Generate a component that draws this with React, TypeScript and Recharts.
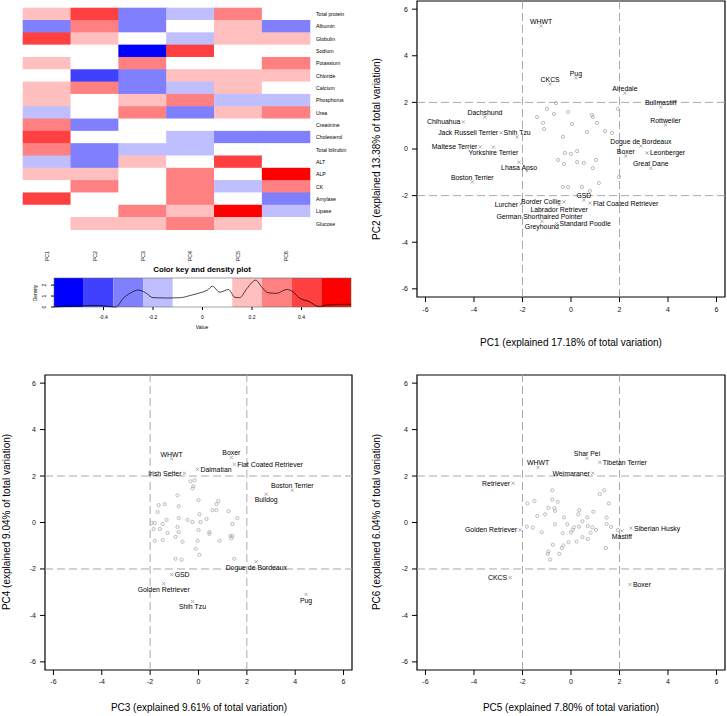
import React from "react";
import {
  ScatterChart,
  Scatter,
  XAxis,
  YAxis,
  ReferenceLine,
  ReferenceArea,
  ComposedChart,
  Line,
} from "recharts";

const FONT = '"Liberation Sans", Arial, Helvetica, sans-serif';

// ---------- heatmap: loadings of each variable on PC1..PC6 ----------
const variables = [
  "Total protein", "Albumin", "Globulin", "Sodium", "Potassium", "Chloride",
  "Calcium", "Phosphorus", "Urea", "Creatinine", "Cholesterol", "Total bilirubin",
  "ALT", "ALP", "CK", "Amylase", "Lipase", "Glucose",
];
const pcNames = ["PC1", "PC2", "PC3", "PC4", "PC5", "PC6"];
const loadings = [
  [0.17, 0.41, -0.29, -0.16, 0.31, 0.04],
  [-0.31, 0.28, -0.32, 0.02, 0.15, -0.3],
  [0.43, 0.18, -0.03, -0.2, 0.16, 0.17],
  [0.06, -0.02, -0.55, 0.44, 0.08, -0.05],
  [0.15, 0.03, 0.32, 0.07, -0.04, 0.29],
  [0.01, -0.45, -0.28, 0.17, 0.2, 0.16],
  [0.19, 0.3, -0.33, -0.19, 0.14, 0.09],
  [0.16, -0.06, 0.2, 0.27, -0.21, -0.17],
  [-0.17, 0.1, 0.28, -0.31, 0.19, 0.33],
  [0.3, -0.29, 0.07, -0.02, 0.05, -0.08],
  [0.45, 0.04, -0.07, -0.15, -0.27, -0.32],
  [0.32, -0.31, -0.2, -0.14, 0.01, 0.1],
  [-0.22, -0.33, 0.21, 0.05, 0.4, 0.02],
  [0.18, 0.21, -0.01, 0.27, 0.06, 0.52],
  [0.1, 0.34, 0.03, 0.29, -0.13, 0.3],
  [0.39, -0.08, 0.11, 0.26, -0.04, -0.35],
  [-0.1, 0.06, 0.28, 0.22, 0.56, -0.15],
  [0.02, 0.15, 0.14, 0.32, 0.2, 0.11],
];

// colour key
const keyBreaks = [-0.6, -0.48, -0.36, -0.24, -0.12, 0, 0.12, 0.24, 0.36, 0.48, 0.6];
const keyColors = [
  "#0000ff", "#4040ff", "#8080ff", "#bfbfff", "#ffffff",
  "#ffffff", "#ffbfbf", "#ff8080", "#ff4040", "#ff0000",
];
const keyTicks = [-0.4, -0.2, 0, 0.2, 0.4];
const densityValue = [
  -0.6, -0.5, -0.42, -0.38, -0.35, -0.32, -0.29, -0.26, -0.23, -0.2, -0.14, -0.09,
  -0.05, -0.01, 0.02, 0.04, 0.07, 0.105, 0.13, 0.15, 0.18, 0.215, 0.24, 0.265, 0.3,
  0.34, 0.365, 0.39, 0.43, 0.47, 0.51, 0.6,
];
const densityHeight = [
  0, 0.1, 0.15, 0.05, 0, 0.8, 1.3, 1.55, 1.3, 0.85, 0.82, 0.85, 1.05, 1.3, 1.55, 1.9,
  1.35, 1.6, 0.9, 0.85, 1.7, 2.45, 1.8, 1.3, 1.25, 1.6, 1.4, 0.85, 0.5, 0.05, 0.2, 0.25,
];

// ---------- PCA scores ----------
const axisTicks = [-6, -4, -2, 0, 2, 4, 6];

const pc12Labelled = [
  { name: "WHWT", x: -1.23, y: 5.28 },
  { name: "CKCS", x: -0.86, y: 2.79 },
  { name: "Pug", x: 0.2, y: 3.05 },
  { name: "Airedale", x: 2.22, y: 2.4 },
  { name: "Bullmastiff", x: 3.7, y: 1.8 },
  { name: "Rottweiler", x: 3.9, y: 1.03 },
  { name: "Dachshund", x: -3.55, y: 1.37 },
  { name: "Chihuahua", x: -4.44, y: 1.16 },
  { name: "Jack Russell Terrier", x: -2.88, y: 0.69 },
  { name: "Shih Tzu", x: -2.22, y: 0.52 },
  { name: "Maltese Terrier", x: -3.74, y: 0.09 },
  { name: "Yorkshire Terrier", x: -3.2, y: 0.08 },
  { name: "Lhasa Apso", x: -2.14, y: -0.57 },
  { name: "Boston Terrier", x: -4.07, y: -1.41 },
  { name: "Dogue de Bordeaux", x: 2.88, y: 0.13 },
  { name: "Boxer", x: 2.26, y: -0.3 },
  { name: "Leonberger", x: 3.13, y: -0.17 },
  { name: "Great Dane", x: 3.29, y: -0.83 },
  { name: "GSD", x: 0.53, y: -2.19 },
  { name: "Flat Coated Retriever", x: 0.78, y: -2.32 },
  { name: "Border Collie", x: -0.29, y: -2.27 },
  { name: "Labrador Retriever", x: -0.49, y: -2.38 },
  { name: "Lurcher", x: -2.06, y: -2.36 },
  { name: "German Shorthaired Pointer", x: -1.3, y: -2.66 },
  { name: "Standard Poodle", x: -0.6, y: -3.2 },
  { name: "Greyhound", x: -1.2, y: -3.1 },
];
const pc12Sides: Record<string, string> = {
  WHWT: "t", CKCS: "t", Pug: "t", Airedale: "t", Bullmastiff: "t", Rottweiler: "t",
  Dachshund: "t", Chihuahua: "l", "Jack Russell Terrier": "l", "Shih Tzu": "t",
  "Maltese Terrier": "l", "Yorkshire Terrier": "b", "Lhasa Apso": "b",
  "Boston Terrier": "t", "Dogue de Bordeaux": "t", Boxer: "t", Leonberger: "r",
  "Great Dane": "t", GSD: "t", "Flat Coated Retriever": "r", "Border Collie": "l",
  "Labrador Retriever": "b", Lurcher: "l", "German Shorthaired Pointer": "b",
  "Standard Poodle": "r", Greyhound: "b",
};
const pc12Others = [
  { x: -0.62, y: 1.97 }, { x: -0.99, y: 1.72 }, { x: -0.7, y: 1.5 }, { x: -0.12, y: 1.59 },
  { x: -1.4, y: 1.37 }, { x: -1.15, y: 1.12 }, { x: -1.11, y: 0.86 }, { x: 0.04, y: 1.07 },
  { x: 0.86, y: 1.46 }, { x: 0.9, y: 1.37 }, { x: 1.07, y: 1.12 }, { x: 0.66, y: 0.73 },
  { x: 1.4, y: 0.77 }, { x: 1.69, y: 0.69 }, { x: 1.93, y: 1.72 }, { x: -0.33, y: 0.52 },
  { x: -0.25, y: -0.17 }, { x: 0, y: -0.21 }, { x: 0.25, y: -0.09 }, { x: -0.53, y: -0.47 },
  { x: -0.29, y: -0.64 }, { x: 0.25, y: -0.56 }, { x: 0.53, y: -0.6 }, { x: 1.03, y: -0.47 },
  { x: 0.9, y: -0.82 }, { x: 1.98, y: -1.2 }, { x: -0.33, y: -1.63 }, { x: -0.12, y: -1.63 },
  { x: 0.45, y: -1.63 }, { x: 1.15, y: -1.46 }, { x: 0.78, y: -1.8 },
];

const pc34Labelled = [
  { name: "WHWT", x: -1.11, y: 2.74 },
  { name: "Boxer", x: 1.36, y: 2.8 },
  { name: "Flat Coated Retriever", x: 1.48, y: 2.5 },
  { name: "Dalmatian", x: -0.04, y: 2.29 },
  { name: "Irish Setter", x: -0.58, y: 2.12 },
  { name: "Boston Terrier", x: 3.88, y: 1.39 },
  { name: "Bulldog", x: 2.8, y: 1.22 },
  { name: "Dogue de Bordeaux", x: 2.39, y: -1.69 },
  { name: "GSD", x: -1.11, y: -2.24 },
  { name: "Golden Retriever", x: -1.44, y: -2.63 },
  { name: "Shih Tzu", x: -0.25, y: -3.4 },
  { name: "Pug", x: 4.45, y: -3.1 },
];
const pc34Sides: Record<string, string> = {
  WHWT: "t", Boxer: "t", "Flat Coated Retriever": "r", Dalmatian: "r",
  "Irish Setter": "l", "Boston Terrier": "t", Bulldog: "b", "Dogue de Bordeaux": "b",
  GSD: "r", "Golden Retriever": "b", "Shih Tzu": "b", Pug: "b",
};
const pc34Others = [
  { x: -0.33, y: 1.77 }, { x: -0.16, y: 1.82 }, { x: -0.25, y: 1.47 }, { x: -0.21, y: 1.56 },
  { x: -0.87, y: 1.17 }, { x: 0, y: 0.96 }, { x: -1.65, y: 0.75 }, { x: -1.4, y: 0.79 },
  { x: -0.82, y: 0.7 }, { x: -1.69, y: 0.45 }, { x: 0.82, y: 0.92 }, { x: 0.74, y: 0.79 },
  { x: 0.58, y: 0.53 }, { x: 0.74, y: 0.53 }, { x: 1.24, y: 0.49 }, { x: 1.61, y: 0.19 },
  { x: 0.04, y: 0.36 }, { x: -1.32, y: 0.11 }, { x: -1.94, y: -0.02 }, { x: -1.81, y: -0.02 },
  { x: -1.48, y: -0.06 }, { x: -1.86, y: -0.28 }, { x: -1.6, y: -0.28 }, { x: -1.28, y: -0.45 },
  { x: -0.82, y: 0.19 }, { x: -0.45, y: 0.11 }, { x: -0.25, y: 0.02 }, { x: 0.08, y: 0.02 },
  { x: 0.33, y: 0.15 }, { x: -0.87, y: -0.19 }, { x: -0.82, y: -0.41 }, { x: 0, y: -0.32 },
  { x: 0.45, y: -0.41 }, { x: 0.45, y: -0.49 }, { x: 1.4, y: -0.06 }, { x: 1.32, y: -0.58 },
  { x: 1.4, y: -0.58 }, { x: 1.36, y: -0.68 }, { x: -1.48, y: -0.75 }, { x: -1.81, y: -0.79 },
  { x: -0.95, y: -0.62 }, { x: -0.66, y: -0.83 }, { x: -0.04, y: -0.79 }, { x: 0.87, y: -0.79 },
  { x: -0.12, y: -1.13 }, { x: 0.04, y: -1.39 }, { x: -0.95, y: -1.56 }, { x: -0.7, y: -1.6 },
  { x: 1.48, y: -1.56 },
];

const pc56Labelled = [
  { name: "Shar Pei", x: 0.66, y: 2.76 },
  { name: "Tibetan Terrier", x: 1.19, y: 2.59 },
  { name: "WHWT", x: -1.36, y: 2.37 },
  { name: "Weimaraner", x: 0.9, y: 2.12 },
  { name: "Retriever", x: -2.39, y: 1.69 },
  { name: "Golden Retriever", x: -2.1, y: -0.32 },
  { name: "Siberian Husky", x: 2.47, y: -0.24 },
  { name: "Mastiff", x: 2.1, y: -0.36 },
  { name: "CKCS", x: -2.51, y: -2.37 },
  { name: "Boxer", x: 2.43, y: -2.67 },
];
const pc56Sides: Record<string, string> = {
  "Shar Pei": "t", "Tibetan Terrier": "r", WHWT: "t", Weimaraner: "l", Retriever: "l",
  "Golden Retriever": "l", "Siberian Husky": "r", Mastiff: "b", CKCS: "l", Boxer: "r",
};
const pc56Others = [
  { x: -0.77, y: 1.39 }, { x: 1.19, y: 1.22 }, { x: 1.37, y: 1.39 }, { x: -1.8, y: 0.82 },
  { x: -1.51, y: 0.92 }, { x: -0.77, y: 0.99 }, { x: -0.55, y: 0.89 }, { x: 1.56, y: 0.82 },
  { x: -0.93, y: 0.63 }, { x: -0.69, y: 0.61 }, { x: -0.66, y: 0.5 }, { x: -1.39, y: 0.28 },
  { x: -1.07, y: 0.35 }, { x: 0.34, y: 0.53 }, { x: 0.3, y: 0.35 }, { x: 0.92, y: 0.46 },
  { x: 0.67, y: 0.22 }, { x: 0.47, y: 0.05 }, { x: -0.29, y: 0.22 }, { x: -0.66, y: -0.08 },
  { x: 1.47, y: 0.21 }, { x: 1.47, y: -0.06 }, { x: 1.65, y: -0.19 }, { x: -1.82, y: -0.18 },
  { x: -1.58, y: -0.22 }, { x: -1.21, y: -0.42 }, { x: -0.15, y: -0.08 }, { x: 0.07, y: -0.32 },
  { x: 0, y: -0.42 }, { x: 0.12, y: -0.21 }, { x: 0.33, y: -0.18 }, { x: 0.69, y: -0.15 },
  { x: 0.88, y: -0.21 }, { x: 1.03, y: -0.32 }, { x: 0.81, y: -0.44 }, { x: -0.34, y: -0.46 },
  { x: 0.47, y: -0.63 }, { x: 0.69, y: -0.71 }, { x: 0.23, y: -0.82 }, { x: -0.11, y: -0.85 },
  { x: -0.32, y: -0.99 }, { x: -0.38, y: -1.1 }, { x: -0.75, y: -0.96 }, { x: -0.93, y: -1.25 },
  { x: -0.96, y: -1.35 }, { x: -0.48, y: -1.35 }, { x: -0.86, y: -1.6 }, { x: 1.44, y: -1.1 },
  { x: 1.93, y: -0.32 },
];

// ---------- helpers ----------
const LIM = 6.35;
const HEAT_W = 287;
const HEAT_H = 234;

function colorFor(v: number) {
  for (let i = 0; i < keyColors.length; i++) {
    if (v < keyBreaks[i + 1]) return keyColors[i];
  }
  return keyColors[keyColors.length - 1];
}

const heatCells = loadings.flatMap((row, i) =>
  row.map((v, j) => ({ col: j + 0.5, row: i + 0.5, v }))
);
const densityData = densityValue.map((v, i) => ({ v, d: densityHeight[i] }));

function Txt({ x, y, size, rotate, bold, children }: any) {
  return (
    <div
      style={{
        position: "absolute",
        left: x,
        top: y,
        transform: `translate(-50%, -50%)${rotate ? " rotate(-90deg)" : ""}`,
        whiteSpace: "nowrap",
        fontSize: size,
        fontWeight: bold ? 700 : 400,
        fontFamily: FONT,
        lineHeight: 1,
        color: "#000",
      }}
    >
      {children}
    </div>
  );
}

const HeatCell = (props: any) => {
  const { cx, cy, payload } = props;
  const w = HEAT_W / 6;
  const h = HEAT_H / 19;
  return (
    <rect x={cx - w / 2 - 0.3} y={cy - h / 2 - 0.3} width={w + 0.6} height={h + 0.6} fill={colorFor(payload.v)} />
  );
};

const PcTick = (props: any) => {
  const { x, y, payload } = props;
  return (
    <text x={x} y={y} transform={`rotate(-90 ${x} ${y})`} textAnchor="end" dominantBaseline="central"
      fontSize={5.2} fontFamily={FONT} fill="#000">
      {pcNames[Math.floor(payload.value)]}
    </text>
  );
};

const VarTick = (props: any) => {
  const { x, y, payload } = props;
  return (
    <text x={x} y={y} textAnchor="start" dominantBaseline="central" fontSize={5.2}
      fontFamily={FONT} fill="#000">
      {variables[Math.floor(payload.value)]}
    </text>
  );
};

const DensityTick = (props: any) => {
  const { x, y, payload } = props;
  return (
    <text x={x} y={y} transform={`rotate(-90 ${x} ${y})`} textAnchor="middle"
      fontSize={5} fontFamily={FONT} fill="#000">
      {payload.value}
    </text>
  );
};

const OpenCircle = (props: any) => {
  const { cx, cy } = props;
  return <circle cx={cx} cy={cy} r={1.6} fill="none" stroke="#aaaaaa" strokeWidth={0.8} />;
};

function makeLabelledShape(sides: Record<string, string>) {
  return (props: any) => {
    const { cx, cy, payload } = props;
    const side = sides[payload.name] || "t";
    let tx = cx;
    let ty = cy;
    let anchor = "middle";
    if (side === "t") ty = cy - 4.5;
    if (side === "b") ty = cy + 5.5;
    if (side === "l") { tx = cx - 3; anchor = "end"; }
    if (side === "r") { tx = cx + 3; anchor = "start"; }
    const s = 1.6;
    return (
      <g>
        <line x1={cx - s} y1={cy - s} x2={cx + s} y2={cy + s} stroke="#999999" strokeWidth={0.8} />
        <line x1={cx - s} y1={cy + s} x2={cx + s} y2={cy - s} stroke="#999999" strokeWidth={0.8} />
        <text x={tx} y={ty} textAnchor={anchor} dominantBaseline="central" fontSize={6.9}
          fontFamily={FONT} fill="#000">
          {payload.name}
        </text>
      </g>
    );
  };
}

const pc12Shape = makeLabelledShape(pc12Sides);
const pc34Shape = makeLabelledShape(pc34Sides);
const pc56Shape = makeLabelledShape(pc56Sides);

const tickText = { fontSize: 7, fill: "#111", fontFamily: FONT };

function PcaPanel({ left, top, width, height, marginTop, marginRight, yAxisWidth, xAxisHeight,
  tickGap, others, labelled, shape }: any) {
  return (
    <div style={{ position: "absolute", left, top }}>
      <ScatterChart width={width} height={height}
        margin={{ top: marginTop, right: marginRight, bottom: 0, left: 0 }}>
        <XAxis type="number" dataKey="x" domain={[-LIM, LIM]} ticks={axisTicks} interval={0}
          axisLine={false} tickSize={5} tickMargin={tickGap} height={xAxisHeight}
          tick={tickText} tickLine={{ stroke: "#000" }} allowDataOverflow />
        <YAxis type="number" dataKey="y" domain={[-LIM, LIM]} ticks={axisTicks} interval={0}
          axisLine={false} tickSize={5} tickMargin={4} width={yAxisWidth}
          tick={tickText} tickLine={{ stroke: "#000" }} allowDataOverflow />
        {[-2, 2].map((v) => (
          <ReferenceLine key={`vx${v}`} x={v} stroke="#aaaaaa" strokeDasharray="8 4" />
        ))}
        {[-2, 2].map((v) => (
          <ReferenceLine key={`hy${v}`} y={v} stroke="#aaaaaa" strokeDasharray="8 4" />
        ))}
        <ReferenceArea x1={-LIM} x2={LIM} y1={-LIM} y2={LIM} fill="none" fillOpacity={0}
          stroke="#000" strokeWidth={1.2} />
        <Scatter data={others} shape={OpenCircle} isAnimationActive={false} />
        <Scatter data={labelled} shape={shape} isAnimationActive={false} />
      </ScatterChart>
    </div>
  );
}

export default function App() {
  return (
    <div style={{ position: "absolute", left: 0, top: 0, width: 727, height: 716, background: "#fff" }}>
      {/* heatmap */}
      <div style={{ position: "absolute", left: 0, top: 0 }}>
        <ScatterChart width={364} height={262} margin={{ top: 8, right: 0, bottom: 0, left: 23 }}>
          <XAxis type="number" dataKey="col" domain={[0, 6]} ticks={pcNames.map((_, j) => j + 0.5)}
            interval={0} axisLine={false} tickLine={false} tickSize={0} tickMargin={9} height={20}
            tick={PcTick} />
          <YAxis type="number" dataKey="row" domain={[0, 19]} reversed orientation="right"
            ticks={variables.map((_, i) => i + 0.5)} interval={0} axisLine={false} tickLine={false}
            tickSize={0} tickMargin={6} width={54} tick={VarTick} />
          <Scatter data={heatCells} shape={HeatCell} isAnimationActive={false} />
        </ScatterChart>
      </div>

      {/* colour key with density */}
      <Txt x={202} y={270} size={7.8} bold>Color key and density plot</Txt>
      <div style={{ position: "absolute", left: 0, top: 262 }}>
        <ComposedChart width={364} height={75} data={densityData}
          margin={{ top: 16, right: 13, bottom: 0, left: 0 }}>
          <XAxis type="number" dataKey="v" domain={[-0.6, 0.6]} ticks={keyTicks} interval={0}
            axisLine={false} tickSize={3} tickMargin={5} height={30}
            tick={{ fontSize: 5, fill: "#000", fontFamily: FONT }} tickLine={{ stroke: "#000" }} />
          <YAxis type="number" domain={[0, 2.65]} ticks={[0, 1, 2]} interval={0} axisLine={false}
            tickSize={3} tickMargin={5} width={54} tick={DensityTick} tickLine={{ stroke: "#000" }} />
          {keyColors.map((c, i) => (
            <ReferenceArea key={i} x1={keyBreaks[i]} x2={keyBreaks[i + 1]} fill={c} fillOpacity={1}
              stroke="none" />
          ))}
          <ReferenceArea x1={-0.6} x2={0.6} y1={0} y2={2.65} fill="none" fillOpacity={0}
            stroke="#666" strokeWidth={0.6} />
          <Line dataKey="d" type="monotone" dot={false} stroke="#000" strokeWidth={0.7}
            isAnimationActive={false} />
        </ComposedChart>
      </div>
      <Txt x={35} y={293} size={5} rotate>Density</Txt>
      <Txt x={202} y={327} size={5}>Value</Txt>

      {/* PC1 vs PC2 */}
      <PcaPanel left={364} top={0} width={363} height={360} marginTop={1} marginRight={2}
        yAxisWidth={53} xAxisHeight={63} tickGap={5} others={pc12Others} labelled={pc12Labelled}
        shape={pc12Shape} />
      <Txt x={571} y={343} size={10}>PC1 (explained 17.18% of total variation)</Txt>
      <Txt x={377} y={149} size={10} rotate>PC2 (explained 13.38% of total variation)</Txt>

      {/* PC3 vs PC4 */}
      <PcaPanel left={0} top={360} width={364} height={356} marginTop={15} marginRight={12}
        yAxisWidth={45} xAxisHeight={46} tickGap={4} others={pc34Others} labelled={pc34Labelled}
        shape={pc34Shape} />
      <Txt x={199} y={708} size={10}>PC3 (explained 9.61% of total variation)</Txt>
      <Txt x={7} y={522} size={10} rotate>PC4 (explained 9.04% of total variation)</Txt>

      {/* PC5 vs PC6 */}
      <PcaPanel left={364} top={360} width={363} height={356} marginTop={15} marginRight={2}
        yAxisWidth={53} xAxisHeight={46} tickGap={4} others={pc56Others} labelled={pc56Labelled}
        shape={pc56Shape} />
      <Txt x={571} y={708} size={10}>PC5 (explained 7.80% of total variation)</Txt>
      <Txt x={377} y={522} size={10} rotate>PC6 (explained 6.04% of total variation)</Txt>
    </div>
  );
}
